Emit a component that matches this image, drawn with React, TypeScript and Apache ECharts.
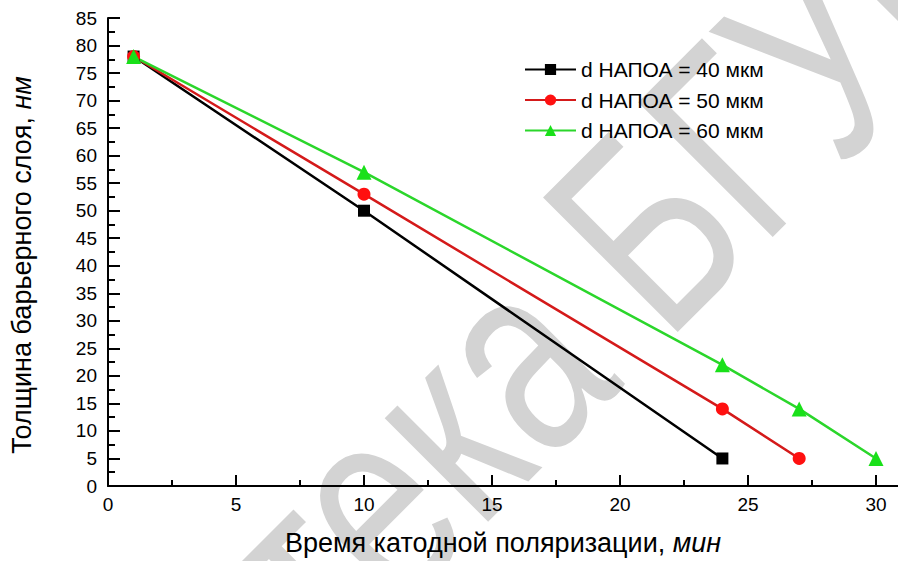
import React, { useEffect, useRef } from "react";
import * as echarts from "echarts";

const seriesNames = ["d НАПОА = 40 мкм", "d НАПОА = 50 мкм", "d НАПОА = 60 мкм"];
const time40 = [1, 10, 24];
const thick40 = [78, 50, 5];
const time50 = [1, 10, 24, 27];
const thick50 = [78, 53, 14, 5];
const time60 = [1, 10, 24, 27, 30];
const thick60 = [78, 57, 22, 14, 5];
const xMajorTicks = [0, 5, 10, 15, 20, 25, 30];
const xMinorTicks = [2.5, 7.5, 12.5, 17.5, 22.5, 27.5];

const FONT = "'Liberation Sans', Arial, sans-serif";

export default function App() {
  const ref = useRef<HTMLDivElement>(null);
  useEffect(() => {
    if (!ref.current) return;
    const chart = echarts.init(ref.current, null, { renderer: "svg" });
    const pairs = (xs: number[], ys: number[]) => xs.map((x, i) => [x, ys[i]]);
    const option: any = {
      animation: false,
      backgroundColor: "#ffffff",
      textStyle: { fontFamily: FONT },
      grid: { left: 108, right: 0, top: 18, bottom: 75, containLabel: false },
      legend: {
        orient: "vertical",
        left: 519,
        top: 54,
        itemWidth: 51,
        itemHeight: 14,
        itemGap: 9.5,
        data: seriesNames,
        textStyle: { fontSize: 21, color: "#000", fontFamily: FONT, lineHeight: 21 },
      },
      graphic: [
        {
          type: "text",
          z: -10,
          x: 417,
          y: 457,
          rotation: (45 * Math.PI) / 180,
          scaleY: 1.35,
          silent: true,
          style: {
            text: "Библиотека БГУИР",
            fontSize: 205,
            fontFamily: FONT,
            fill: "#d3d3d3",
            textAlign: "center",
            textVerticalAlign: "middle",
          },
        },
        {
          type: "text",
          x: 22,
          y: 265,
          rotation: Math.PI / 2,
          style: {
            text: "{a|Толщина барьерного слоя, }{b|нм}",
            textAlign: "center",
            textVerticalAlign: "middle",
            fill: "#000",
            rich: {
              a: { fontSize: 27, fontFamily: FONT, fill: "#000" },
              b: { fontSize: 27, fontFamily: FONT, fontStyle: "italic", fill: "#000" },
            },
          },
        },
      ],
      xAxis: [
        {
          type: "value",
          min: 0,
          max: 30.86,
          name: "Время катодной поляризации, {i|мин}",
          nameLocation: "middle",
          nameGap: 43,
          nameTextStyle: {
            fontSize: 27,
            color: "#000",
            fontFamily: FONT,
            rich: { i: { fontSize: 27, fontStyle: "italic", color: "#000", fontFamily: FONT } },
          },
          splitLine: { show: false },
          axisLine: { show: true, lineStyle: { color: "#000", width: 2 } },
          axisTick: {
            show: true,
            inside: true,
            length: 11,
            lineStyle: { color: "#000", width: 2 },
            customValues: xMajorTicks,
          },
          axisLabel: {
            fontSize: 19,
            color: "#000",
            fontFamily: FONT,
            margin: 9,
            customValues: xMajorTicks,
          },
        },
        {
          type: "value",
          min: 0,
          max: 30.86,
          position: "bottom",
          splitLine: { show: false },
          axisLine: { show: false },
          axisTick: {
            show: true,
            inside: true,
            length: 6,
            lineStyle: { color: "#000", width: 2 },
            customValues: xMinorTicks,
          },
          axisLabel: { show: false },
        },
      ],
      yAxis: {
        type: "value",
        min: 0,
        max: 85,
        interval: 5,
        splitLine: { show: false },
        axisLine: { show: true, lineStyle: { color: "#000", width: 2 } },
        axisTick: { show: true, inside: true, length: 12, lineStyle: { color: "#000", width: 2 } },
        minorTick: { show: true, splitNumber: 2, length: 7, lineStyle: { color: "#000", width: 2 } },
        axisLabel: { fontSize: 19, color: "#000", fontFamily: FONT, margin: 11 },
      },
      series: [
        {
          name: seriesNames[0],
          type: "line",
          xAxisIndex: 0,
          data: pairs(time40, thick40),
          symbol: "rect",
          symbolSize: 12,
          lineStyle: { color: "#000000", width: 2.5 },
          itemStyle: { color: "#000000" },
        },
        {
          name: seriesNames[1],
          type: "line",
          xAxisIndex: 0,
          data: pairs(time50, thick50),
          symbol: "circle",
          symbolSize: 13,
          lineStyle: { color: "#d41a1a", width: 2.5 },
          itemStyle: { color: "#ff1010" },
        },
        {
          name: seriesNames[2],
          type: "line",
          xAxisIndex: 0,
          data: pairs(time60, thick60),
          symbol: "triangle",
          symbolSize: 15,
          lineStyle: { color: "#2bd62b", width: 2.5 },
          itemStyle: { color: "#19e019" },
        },
      ],
    };
    chart.setOption(option);
    return () => chart.dispose();
  }, []);
  return (
    <div
      ref={ref}
      style={{ position: "fixed", left: 0, top: 0, width: 898, height: 561, background: "#fff" }}
    />
  );
}
